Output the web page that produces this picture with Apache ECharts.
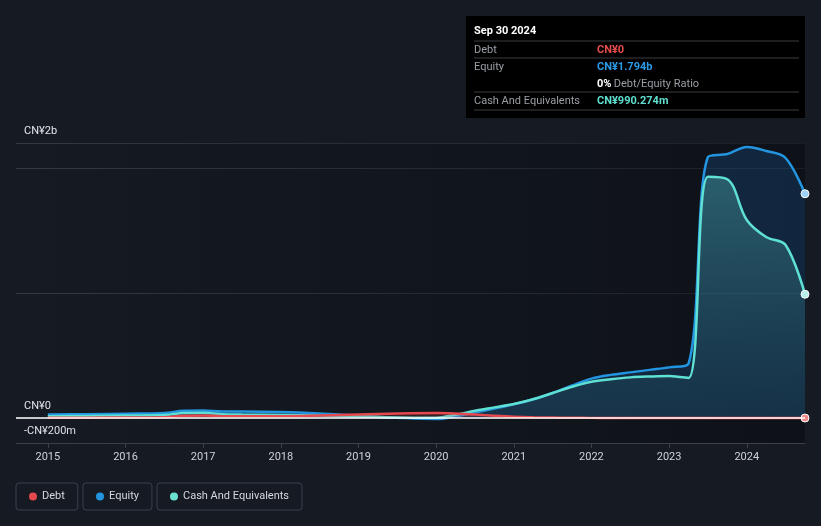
<!DOCTYPE html>
<html>
<head>
<meta charset="utf-8">
<script src="https://cdn.jsdelivr.net/npm/echarts@6/dist/echarts.min.js"></script>
<style>
html,body{margin:0;padding:0;background:#151a23;}
#c{width:821px;height:526px;}
</style>
</head>
<body>
<div id="c"></div>
<script>
// ---- data (values in CN¥ millions) ----
const years = [2015.0, 2015.5, 2016.0, 2016.5, 2016.75, 2017.0, 2017.25, 2017.5, 2018.0, 2018.5, 2019.0, 2019.5, 2020.0, 2020.25, 2020.5, 2020.75, 2021.0, 2021.25, 2021.5, 2021.75, 2022.0, 2022.25, 2022.5, 2022.75, 2023.0, 2023.25, 2023.5, 2023.75, 2024.0, 2024.25, 2024.5, 2024.75];
const debt = [3, 3, 4, 6, 18, 20, 15, 14, 14, 20, 28, 36, 40, 36, 28, 18, 10, 6, 4, 2, 1, 0, 0, 0, 0, 0, 0, 0, 0, 0, 0, 0];
const equity = [28, 30, 34, 40, 58, 60, 52, 52, 48, 36, 18, 2, -8, 12, 45, 75, 110, 150, 200, 260, 315, 345, 365, 385, 405, 435, 2088, 2112, 2168, 2136, 2080, 1794];
const cash = [15, 17, 20, 24, 40, 42, 30, 28, 25, 20, 12, 4, 2, 26, 58, 85, 112, 150, 200, 250, 290, 310, 325, 332, 336, 320, 1930, 1910, 1584, 1448, 1384, 990];
const xTicks = [2015, 2016, 2017, 2018, 2019, 2020, 2021, 2022, 2023, 2024];
const xMin = 2014.59, xMax = 2024.75;
const yMin = -200, yMax = 2200;
const yGridValues = [-200, 0, 1000, 2000, 2200];
const yLabelValues = [-200, 0, 2200];
const yLabelTexts = ['-CN¥200m', 'CN¥0', 'CN¥2b'];
const seriesNames = ['Debt', 'Equity', 'Cash And Equivalents'];
const colors = { debt: '#e5484d', equity: '#2394df', cash: '#6be0d3' };
const tipTitle = 'Sep 30 2024';
const tipRows = [
  { label: 'Debt', value: 'CN¥0', color: '#e64c4c' },
  { label: 'Equity', value: 'CN¥1.794b', color: '#2a9be8' },
  { label: '', value: '0%', extra: ' Debt/Equity Ratio', color: '#ffffff' },
  { label: 'Cash And Equivalents', value: 'CN¥990.274m', color: '#5fdfcf' }
];

function pts(vals) {
  return years.map((y, i) => {
    if (i === years.length - 1) {
      return { value: [y, vals[i]], symbol: 'circle', symbolSize: 8 };
    }
    return [y, vals[i]];
  });
}

const chart = echarts.init(document.getElementById('c'));
const FONT = 'Roboto, "Noto Sans", sans-serif';

// tooltip-like static box
const tipChildren = [];
const boxW = 339, boxH = 102;
tipChildren.push({ type: 'rect', shape: { x: 0, y: 0, width: boxW, height: boxH }, style: { fill: '#000000' } });
tipChildren.push({ type: 'text', x: 8, y: 10, style: { text: tipTitle, fill: '#ffffff', font: 'bold 11px ' + FONT } });
const lineYs = [25, 42, 76, 94];
lineYs.forEach(ly => tipChildren.push({ type: 'line', shape: { x1: 8, y1: ly, x2: 333, y2: ly }, style: { stroke: '#3a3c40', lineWidth: 1 } }));
const rowYs = [29, 46, 63, 80];
tipRows.forEach((r, i) => {
  if (r.label) tipChildren.push({ type: 'text', x: 8, y: rowYs[i], style: { text: r.label, fill: '#9a9ea6', font: '11px ' + FONT } });
  tipChildren.push({ type: 'text', x: 131, y: rowYs[i], style: { text: r.value, fill: r.color, font: 'bold 11px ' + FONT } });
  if (r.extra) tipChildren.push({ type: 'text', x: 131 + 14, y: rowYs[i], style: { text: r.extra, fill: '#9a9ea6', font: '11px ' + FONT } });
});

const legendBase = {
  top: 483, orient: 'horizontal', icon: 'circle', itemWidth: 8, itemHeight: 8, itemGap: 0,
  borderColor: '#3a404b', borderWidth: 1, borderRadius: 3, padding: [8, 13, 8, 13],
  textStyle: { color: '#d6d8dc', fontSize: 11, fontFamily: FONT }, selectedMode: false
};
const legendColors = [colors.debt, colors.equity, colors.cash];
const legendLefts = [16, 83, 157];

chart.setOption({
  backgroundColor: '#151a23',
  animation: false,
  grid: { left: 16, right: 16, top: 143, bottom: 83, containLabel: false },
  legend: seriesNames.map((n, i) => Object.assign({}, legendBase, {
    left: legendLefts[i],
    data: [{ name: n, itemStyle: { color: legendColors[i], borderWidth: 0 } }]
  })),
  xAxis: {
    type: 'value', min: xMin, max: xMax,
    axisLine: { show: true, onZero: false, lineStyle: { color: '#3b4049', width: 1 } },
    axisTick: { show: true, length: 5, lineStyle: { color: '#3b4049' }, customValues: xTicks },
    axisLabel: { color: '#d0d3d8', fontSize: 11, fontFamily: FONT, margin: 9, customValues: xTicks, formatter: v => String(Math.round(v)) },
    splitLine: { show: false }
  },
  yAxis: {
    type: 'value', min: yMin, max: yMax,
    axisLine: { show: false },
    axisTick: { show: false, customValues: yGridValues },
    splitLine: { show: true, lineStyle: { color: '#333841', width: 1 } },
    axisLabel: {
      inside: true, margin: 8, color: '#e4e6ea', fontSize: 11, fontFamily: FONT,
      verticalAlign: 'bottom', padding: [0, 0, 6, 0],
      customValues: yLabelValues,
      formatter: v => { const i = yLabelValues.indexOf(Math.round(v)); return i >= 0 ? yLabelTexts[i] : ''; }
    }
  },
  series: [
    {
      name: seriesNames[1], type: 'line', data: pts(equity), smooth: 0.35, symbol: 'none', showSymbol: true,
      itemStyle: { color: '#9fd0f5', borderColor: '#ffffff', borderWidth: 1 },
      lineStyle: { color: colors.equity, width: 2.5 },
      areaStyle: { color: 'rgba(28,105,175,0.36)', origin: 'auto' },
      z: 2,
      markArea: {
        silent: true,
        itemStyle: { color: new echarts.graphic.LinearGradient(0, 0, 1, 0, [
          { offset: 0, color: 'rgba(10,12,16,0)' }, { offset: 1, color: 'rgba(8,10,14,0.55)' }
        ]) },
        data: [[{ xAxis: xMin, yAxis: yMin }, { xAxis: xMax, yAxis: yMax }]]
      }
    },
    {
      name: seriesNames[2], type: 'line', data: pts(cash), smooth: 0.35, symbol: 'none', showSymbol: true,
      itemStyle: { color: '#b6f0ea', borderColor: '#ffffff', borderWidth: 1 },
      lineStyle: { color: '#5fe0d4', width: 2.5 },
      areaStyle: {
        origin: 'auto',
        color: new echarts.graphic.LinearGradient(0, 0, 0, 1, [
          { offset: 0, color: 'rgba(85,190,190,0.52)' }, { offset: 1, color: 'rgba(60,140,150,0.15)' }
        ])
      },
      z: 3
    },
    {
      name: seriesNames[0], type: 'line', data: pts(debt), smooth: 0.35, symbol: 'none', showSymbol: true,
      itemStyle: { color: '#f08a8a', borderColor: '#ffffff', borderWidth: 1 },
      lineStyle: { color: colors.debt, width: 2.5 },
      areaStyle: { color: 'rgba(220,80,80,0.25)', origin: 'auto' },
      z: 4,
      markLine: {
        silent: true, symbol: 'none', label: { show: false },
        lineStyle: { color: '#ffffff', width: 1.5, type: 'solid' },
        data: [{ yAxis: 0 }]
      }
    }
  ],
  color: [colors.debt, colors.equity, colors.cash],
  graphic: [{ type: 'group', left: 466, top: 16, children: tipChildren }]
});
</script>
</body>
</html>
